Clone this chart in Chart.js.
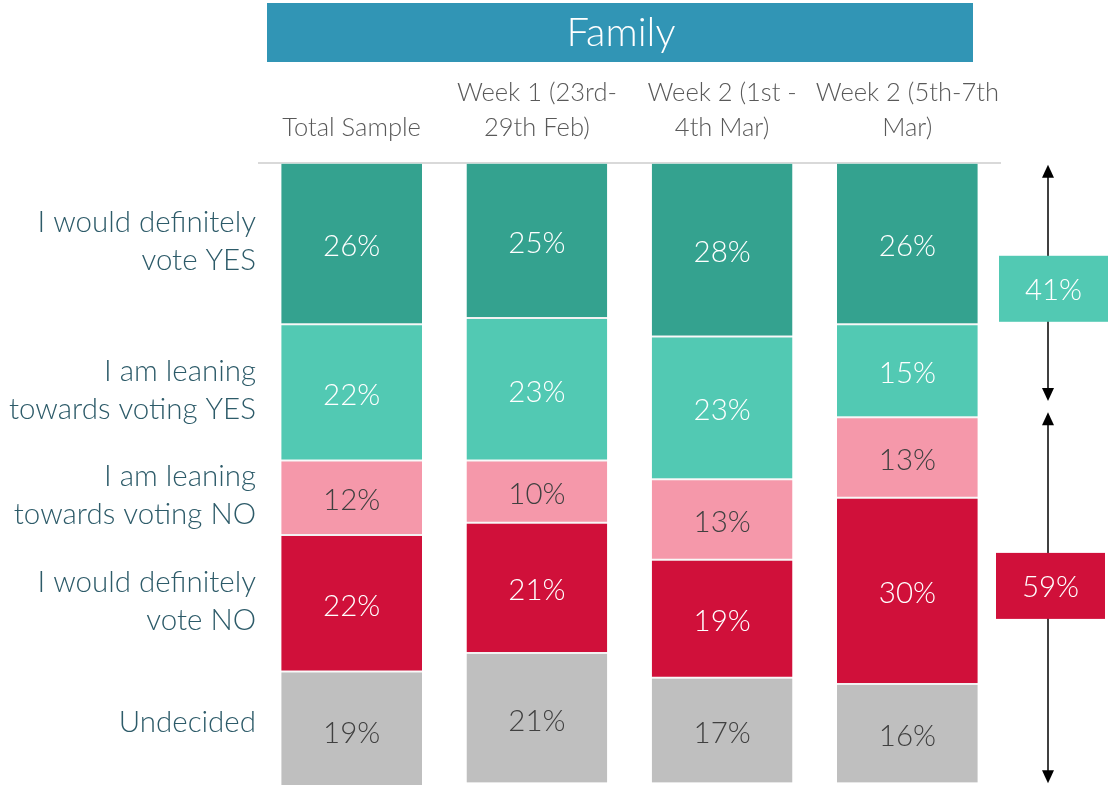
<!DOCTYPE html>
<html>
<head>
<meta charset="utf-8">
<script src="https://cdn.jsdelivr.net/npm/chart.js@4.4.1/dist/chart.umd.min.js"></script>
<style>
  html, body { margin: 0; padding: 0; background: #fff; }
  #wrap { width: 1108px; height: 785px; }
</style>
</head>
<body>
<div id="wrap"><canvas id="chart" width="1108" height="785"></canvas></div>
<script>
// columns
const columns = [
    ['Total Sample'],
    ['Week 1 (23rd-', '29th Feb)'],
    ['Week 2 (1st -', '4th Mar)'],
    ['Week 2 (5th-7th', 'Mar)']
];

// rows, top to bottom
const rowLabels = [
    ['I would definitely', 'vote YES'],
    ['I am leaning', 'towards voting YES'],
    ['I am leaning', 'towards voting NO'],
    ['I would definitely', 'vote NO'],
    ['Undecided']
];

const definitelyYes = [26, 25, 28, 26];
const leaningYes = [22, 23, 23, 15];
const leaningNo = [12, 10, 13, 13];
const definitelyNo = [22, 21, 19, 30];
const undecided = [19, 21, 17, 16];

// share for the last column (right hand side boxes)
const summaryValues = [41, 59];

const FONT = 'Lato, "Open Sans", sans-serif';

const colors = ['#34A28F', '#52C9B3', '#F598AA', '#D0103A', '#BFBFBF'];
const textColors = ['#ffffff', '#ffffff', '#404040', '#ffffff', '#404040'];
const summaryColors = ['#52C9B3', '#D0103A'];

function makeSet(i, data) {
    return {
        label: rowLabels[i].join(' '),
        data: data,
        backgroundColor: colors[i],
        borderColor: '#F2F2F2',
        borderWidth: {top: 1, bottom: 1, left: 0, right: 0},
        borderSkipped: false,
        barPercentage: 0.76,
        categoryPercentage: 1.0
    };
}

// header band, bar values, row labels, arrows
const extrasPlugin = {
    id: 'extras',
    beforeDraw(chart) {
        const ctx = chart.ctx;
        ctx.save();
        ctx.fillStyle = '#3195B5';
        ctx.fillRect(267, 3, 706, 59);
        ctx.fillStyle = '#ffffff';
        ctx.font = '300 40px ' + FONT;
        ctx.textAlign = 'center';
        ctx.textBaseline = 'middle';
        ctx.fillText('Family', 621, 33);
        ctx.restore();
    },
    afterDatasetsDraw(chart) {
        const ctx = chart.ctx;
        const y = chart.scales.y;
        ctx.save();
        ctx.textAlign = 'center';
        ctx.textBaseline = 'middle';
        ctx.font = '300 29.5px ' + FONT;
        chart.data.datasets.forEach((ds, di) => {
            const meta = chart.getDatasetMeta(di);
            meta.data.forEach((bar, i) => {
                const mid = (bar.y + bar.base) / 2 + 3;
                ctx.fillStyle = textColors[di];
                ctx.fillText(ds.data[i] + '%', bar.x, Math.min(mid, 760));
            });
        });

        // row labels on the left, lined up with the first column
        ctx.textAlign = 'right';
        ctx.font = '300 29.5px ' + FONT;
        ctx.fillStyle = '#2D5B69';
        rowLabels.forEach((lines, di) => {
            const bar = chart.getDatasetMeta(di).data[0];
            let mid = (bar.y + Math.min(bar.base, chart.chartArea.bottom)) / 2 - 2;
            if (di === 4) mid -= 6;
            const lh = 38;
            lines.forEach((t, k) => {
                ctx.fillText(t, 256, mid + (k - (lines.length - 1) / 2) * lh);
            });
        });

        // arrows on the right
        const ax = 1048;
        function arrow(v1, v2) {
            const y1 = y.getPixelForValue(v1);
            const y2 = y.getPixelForValue(v2);
            ctx.strokeStyle = '#000';
            ctx.lineWidth = 1.5;
            ctx.beginPath();
            ctx.moveTo(ax, y1 + 10);
            ctx.lineTo(ax, y2 - 10);
            ctx.stroke();
            ctx.fillStyle = '#000';
            ctx.beginPath();
            ctx.moveTo(ax, y1);
            ctx.lineTo(ax - 6, y1 + 13);
            ctx.lineTo(ax + 6, y1 + 13);
            ctx.closePath();
            ctx.fill();
            ctx.beginPath();
            ctx.moveTo(ax, y2);
            ctx.lineTo(ax - 6, y2 - 13);
            ctx.lineTo(ax + 6, y2 - 13);
            ctx.closePath();
            ctx.fill();
        }
        arrow(0.3, 38.4);
        arrow(40.2, 100);

        // summary boxes
        const boxes = [[999, 20.3], [996, 68.2]];
        ctx.textAlign = 'center';
        summaryValues.forEach((v, i) => {
            const cy = y.getPixelForValue(boxes[i][1]);
            ctx.fillStyle = summaryColors[i];
            ctx.fillRect(boxes[i][0], cy - 33, 109, 66);
            ctx.fillStyle = '#ffffff';
            ctx.fillText(v + '%', boxes[i][0] + 54.5, cy + 2);
        });
        ctx.restore();
    }
};

const ctx = document.getElementById('chart').getContext('2d');
new Chart(ctx, {
    type: 'bar',
    data: {
        labels: columns,
        datasets: [
            makeSet(0, definitelyYes),
            makeSet(1, leaningYes),
            makeSet(2, leaningNo),
            makeSet(3, definitelyNo),
            makeSet(4, undecided)
        ]
    },
    options: {
        responsive: false,
        animation: false,
        layout: {
            padding: {left: 259, right: 108, top: 57, bottom: 0}
        },
        plugins: {
            legend: {display: false},
            tooltip: {enabled: false}
        },
        scales: {
            x: {
                stacked: true,
                position: 'top',
                grid: {display: false, drawTicks: false},
                border: {display: true, color: '#D9D9D9', width: 2},
                ticks: {
                    color: '#595959',
                    padding: 18,
                    maxRotation: 0,
                    autoSkip: false,
                    font: {family: FONT, size: 25.5, weight: '300', lineHeight: 1.37}
                }
            },
            y: {
                stacked: true,
                display: false,
                reverse: true,
                min: 0,
                max: 100.3
            }
        }
    },
    plugins: [extrasPlugin]
});
</script>
</body>
</html>
